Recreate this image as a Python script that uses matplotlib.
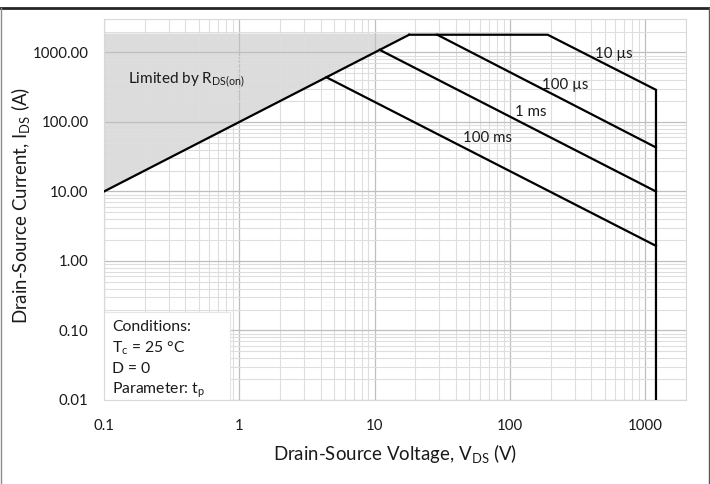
import matplotlib
matplotlib.use("Agg")
import matplotlib.pyplot as plt
from matplotlib.lines import Line2D
from matplotlib.patches import Rectangle
from matplotlib.ticker import FixedLocator, LogLocator, NullFormatter

plt.rcParams['font.family'] = ['Lato', 'DejaVu Sans']
plt.rcParams['mathtext.fontset'] = 'custom'
plt.rcParams['mathtext.rm'] = 'Lato'
plt.rcParams['mathtext.it'] = 'Lato'
plt.rcParams['mathtext.default'] = 'regular'

# ---- data (V, A) ----
rds_v = [0.1, 18]
rds_i = [10, 1800]
t10us_v = [18, 190, 1200, 1200]
t10us_i = [1800, 1800, 290, 0.01]
t100us_v = [29, 1200]
t100us_i = [1800, 43]
t1ms_v = [10.9, 1200]
t1ms_i = [1090, 10]
t100ms_v = [4.4, 1200]
t100ms_i = [440, 1.65]
shade_top = 1900

x_ticks = [0.1, 1, 10, 100, 1000]
x_ticklabels = ["0.1", "1", "10", "100", "1000"]
y_ticks = [0.01, 0.1, 1, 10, 100, 1000]
y_ticklabels = ["0.01", "0.10", "1.00", "10.00", "100.00", "1000.00"]

curve_labels = ["10 µs", "100 µs", "1 ms", "100 ms"]
label_pos = [(590, 958), (257, 343), (142, 140), (68, 59)]

fig = plt.figure(figsize=(7.1, 4.84), dpi=100)
ax = fig.add_axes([0.1465, 0.1736, 0.8197, 0.7865])
ax.set_xscale('log')
ax.set_yscale('log')
ax.set_xlim(0.1, 2000)
ax.set_ylim(0.01, 3000)

# shaded region (limited by RDS(on))
ax.fill_between(rds_v, rds_i, [shade_top, shade_top], color='#dcdcdc', lw=0, zorder=0.4)

lc = 'black'
lw = 1.6
ax.plot(rds_v, rds_i, color=lc, lw=lw, zorder=3)
ax.plot(t10us_v, t10us_i, color=lc, lw=lw, zorder=3, solid_joinstyle='miter')
ax.plot(t100us_v, t100us_i, color=lc, lw=lw, zorder=3)
ax.plot(t1ms_v, t1ms_i, color=lc, lw=lw, zorder=3)
ax.plot(t100ms_v, t100ms_i, color=lc, lw=lw, zorder=3)

for lab, (xv, yv) in zip(curve_labels, label_pos):
    ax.text(xv, yv, lab, fontsize=10.8, ha='center', va='center', color='#1a1a1a', zorder=4)

ax.text(0.15, 405, r"Limited by R$_{DS(on)}$", fontsize=11, ha='left', va='center', color='#1a1a1a', zorder=4)

# ticks / grid
ax.xaxis.set_major_locator(FixedLocator(x_ticks))
ax.set_xticklabels(x_ticklabels)
ax.yaxis.set_major_locator(FixedLocator(y_ticks))
ax.set_yticklabels(y_ticklabels)
ax.xaxis.set_minor_locator(LogLocator(base=10, subs=range(2, 10), numticks=20))
ax.yaxis.set_minor_locator(LogLocator(base=10, subs=range(2, 10), numticks=20))
ax.xaxis.set_minor_formatter(NullFormatter())
ax.yaxis.set_minor_formatter(NullFormatter())
ax.tick_params(which='both', length=0)
ax.tick_params(axis='x', pad=14, labelsize=10.8, colors='#1a1a1a')
ax.tick_params(axis='y', pad=11, labelsize=10.8, colors='#1a1a1a')
ax.set_axisbelow(True)
ax.grid(which='major', color='#bfbfbf', lw=0.9)
ax.grid(which='minor', color='#dedede', lw=0.8)
for s in ax.spines.values():
    s.set_color('#d9d9d9')
    s.set_linewidth(0.8)

ax.set_xlabel(r"Drain-Source Voltage, V$_{DS}$ (V)", fontsize=13.4, labelpad=6, color='#1a1a1a')
ax.set_ylabel(r"Drain-Source Current, I$_{DS}$ (A)", fontsize=13.4, color='#1a1a1a')
ax.yaxis.set_label_coords(-0.1237, 0.512)

# conditions box
ax.add_patch(Rectangle((0, 0), 0.2165, 0.231, transform=ax.transAxes, facecolor='white',
                       edgecolor='#e6e6e6', lw=0.8, zorder=2.5))
cond_lines = ["Conditions:", r"T$_c$ = 25 °C", "D = 0", r"Parameter: t$_p$"]
cond_y = [0.192, 0.137, 0.081, 0.026]
for t, yy in zip(cond_lines, cond_y):
    ax.text(0.0137, yy, t, transform=ax.transAxes, fontsize=11.3, ha='left', va='center',
            color='#1a1a1a', zorder=3)

# figure frame
fig.add_artist(Line2D([0, 1], [1 - 7.5/484, 1 - 7.5/484], transform=fig.transFigure, color='#262626', lw=2))
fig.add_artist(Line2D([0.8/710, 0.8/710], [0, 1 - 7.5/484], transform=fig.transFigure, color='#8c8c8c', lw=1))
fig.add_artist(Line2D([708.5/710, 708.5/710], [0, 1 - 7.5/484], transform=fig.transFigure, color='#595959', lw=1))

fig.savefig("out.png", dpi=100)
